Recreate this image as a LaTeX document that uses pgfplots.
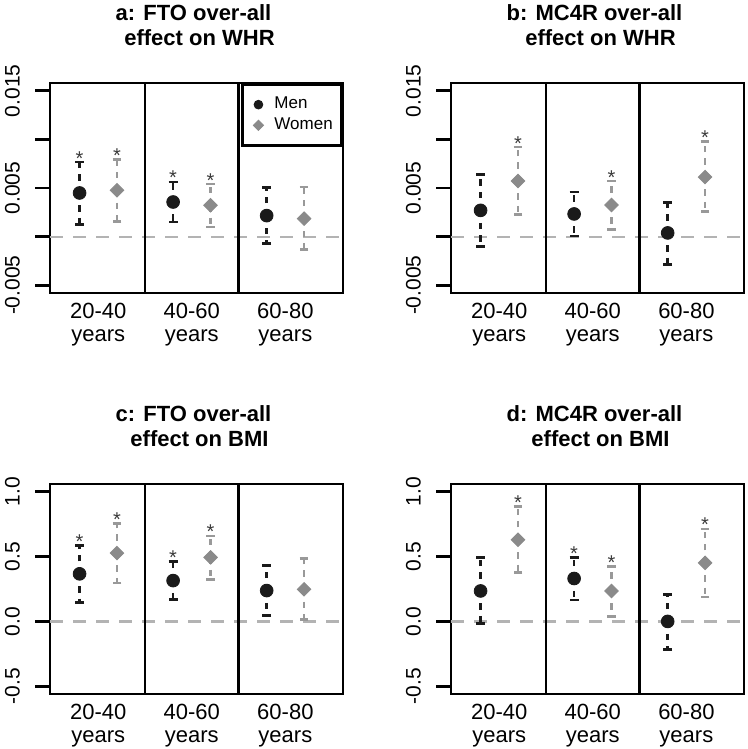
\documentclass[border=0pt]{standalone}
\usepackage{fontspec}
\setmainfont{Liberation Sans}
\usepackage{pgfplots}
\usepackage{pgfplotstable}
\pgfplotsset{compat=1.18}

\definecolor{men}{HTML}{1A1A1A}
\definecolor{women}{HTML}{8A8A8A}
\definecolor{womenbar}{HTML}{999999}
\definecolor{zerocol}{HTML}{B3B3B3}
\definecolor{starcol}{HTML}{3A3A3A}

% columns: x, estimate, lower and upper CI
\pgfplotstableread{
x y lo hi
0.8 0.00449 0.00123 0.00767
1.8 0.00356 0.00151 0.00562
2.8 0.00216 -0.00072 0.00503
}\aMen
\pgfplotstableread{
x y lo hi
1.2 0.00476 0.00158 0.00795
2.2 0.00322 0.00099 0.00541
3.2 0.00185 -0.00134 0.00510
}\aWomen
\pgfplotstableread{
x hi
0.8 0.00767
1.2 0.00795
1.8 0.00562
2.2 0.00541
}\aStar

\pgfplotstableread{
x y lo hi
0.8 0.00270 -0.00099 0.00640
1.8 0.00233 0.00007 0.00459
2.8 0.00038 -0.00284 0.00353
}\bMen
\pgfplotstableread{
x y lo hi
1.2 0.00572 0.00226 0.00921
2.2 0.00325 0.00075 0.00572
3.2 0.00613 0.00257 0.00980
}\bWomen
\pgfplotstableread{
x hi
1.2 0.00921
2.2 0.00572
3.2 0.00980
}\bStar

\pgfplotstableread{
x y lo hi
0.8 0.367 0.145 0.584
1.8 0.315 0.168 0.465
2.8 0.238 0.047 0.432
}\cMen
\pgfplotstableread{
x y lo hi
1.2 0.527 0.297 0.755
2.2 0.494 0.323 0.659
3.2 0.248 0.016 0.483
}\cWomen
\pgfplotstableread{
x hi
0.8 0.584
1.2 0.755
1.8 0.465
2.2 0.659
}\cStar

\pgfplotstableread{
x y lo hi
0.8 0.235 -0.016 0.491
1.8 0.331 0.165 0.496
2.8 0.000 -0.217 0.209
}\dMen
\pgfplotstableread{
x y lo hi
1.2 0.630 0.375 0.884
2.2 0.235 0.041 0.426
3.2 0.452 0.189 0.713
}\dWomen
\pgfplotstableread{
x hi
1.2 0.884
1.8 0.496
2.2 0.426
3.2 0.713
}\dStar

\pgfplotsset{
  panel/.style={
    scale only axis, width=146.5pt, height=105pt,
    anchor=south west,
    xmin=0.484, xmax=3.616,
    axis line style={line width=1.3pt},
    xtick={1,2,3},
    xticklabels={{20-40\\years},{40-60\\years},{60-80\\years}},
    xtick style={draw=none},
    xticklabel style={align=center, font=\fontsize{11}{11.5}\selectfont, anchor=north, inner sep=0pt, yshift=2.5pt},
    ytick pos=left, tick align=outside,
    major tick length=7.5pt,
    ytick style={line width=1.3pt, black},
    yticklabel style={rotate=90, anchor=south, font=\fontsize{10.5}{12}\selectfont},
    yticklabel shift=4pt,
    scaled y ticks=false,
    title style={at={(0.5,1)}, anchor=south, inner sep=0pt, yshift=12.5pt, align=center, font=\bfseries\fontsize{11}{12.25}\selectfont},
    legend image code/.code={\path[draw=none, fill=none] (0pt,0pt) -- (11.5pt,0pt); \draw[#1] plot coordinates {(5pt,0pt)};},
  },
  whr/.style={ymin=-0.0058, ymax=0.0158, ytick={-0.005,0,0.005,0.01,0.015}, yticklabels={-0.005,,0.005,,0.015}},
  bmi/.style={ymin=-0.56, ymax=1.06, ytick={-0.5,0,0.5,1}, yticklabels={-0.5,0.0,0.5,1.0}},
  menplot/.style={only marks, mark=*, mark size=3.2pt, color=men,
    error bars/y dir=both, error bars/y explicit,
    error bars/error bar style={line width=1.2pt, dash pattern=on 3.2pt off 3pt},
    error bars/error mark=-,
    error bars/error mark options={rotate=90, solid, line width=1.4pt, mark size=2.2pt}},
  womenplot/.style={only marks, mark=square*, mark size=2.4pt, color=women, mark options={rotate=45},
    error bars/y dir=both, error bars/y explicit,
    error bars/error bar style={womenbar, line width=1.2pt, dash pattern=on 3.2pt off 3pt},
    error bars/error mark=-,
    error bars/error mark options={rotate=90, solid, womenbar, line width=1.4pt, mark size=2.2pt}},
  starplot/.style={draw=none, mark=none, nodes near coords={*},
    every node near coord/.append style={anchor=base, yshift=-1.5pt, inner sep=0pt, text=starcol, font=\fontsize{10}{10}\selectfont}},
  zeroplot/.style={forget plot, zerocol, line width=1.1pt, dash pattern=on 6.5pt off 5pt},
  table/ci/.style={x=x, y=y, y error plus expr=\thisrow{hi}-\thisrow{y}, y error minus expr=\thisrow{y}-\thisrow{lo}},
}

\newcommand{\dividers}{%
  \draw[line width=1.3pt] ({axis cs:1.5,0}|-{rel axis cs:0,0}) -- ({axis cs:1.5,0}|-{rel axis cs:0,1});
  \draw[line width=1.3pt] ({axis cs:2.5,0}|-{rel axis cs:0,0}) -- ({axis cs:2.5,0}|-{rel axis cs:0,1});
}

\begin{document}
\begin{tikzpicture}
\useasboundingbox (0,0) rectangle (374pt,-374.5pt);

% a
\begin{axis}[panel, whr, at={(25pt,-146.5pt)},
  title={a: FTO over-all\kern3pt\\\kern3pt effect on WHR},
  legend entries={Men,Women},
  legend cell align=left,
  legend style={at={(1,1)}, anchor=north east, draw=black, line width=1.3pt,
    font=\fontsize{8.5}{10}\selectfont, inner xsep=3pt, inner ysep=5pt, row sep=0pt,
    nodes={inner sep=1.5pt}},
]
\addlegendimage{only marks, mark=*, mark size=2.2pt, men, line width=0.4pt}
\addlegendimage{only marks, mark=square*, mark size=1.8pt, women, mark options={rotate=45}, line width=0.4pt}
\addplot[zeroplot] coordinates {(0.484,0) (3.616,0)};
\dividers
\addplot[menplot] table[ci] {\aMen};
\addplot[womenplot] table[ci] {\aWomen};
\addplot[starplot] table[x=x, y=hi] {\aStar};
\end{axis}

% b
\begin{axis}[panel, whr, at={(225.5pt,-146.5pt)},
  title={b: MC4R over-all\kern3pt\\\kern3pt effect on WHR}]
\addplot[zeroplot] coordinates {(0.484,0) (3.616,0)};
\dividers
\addplot[menplot] table[ci] {\bMen};
\addplot[womenplot] table[ci] {\bWomen};
\addplot[starplot] table[x=x, y=hi] {\bStar};
\end{axis}

% c
\begin{axis}[panel, bmi, at={(25pt,-347pt)},
  title={c: FTO over-all\kern3pt\\\kern3pt effect on BMI}]
\addplot[zeroplot] coordinates {(0.484,0) (3.616,0)};
\dividers
\addplot[menplot] table[ci] {\cMen};
\addplot[womenplot] table[ci] {\cWomen};
\addplot[starplot] table[x=x, y=hi] {\cStar};
\end{axis}

% d
\begin{axis}[panel, bmi, at={(225.5pt,-347pt)},
  title={d: MC4R over-all\kern3pt\\\kern3pt effect on BMI}]
\addplot[zeroplot] coordinates {(0.484,0) (3.616,0)};
\dividers
\addplot[menplot] table[ci] {\dMen};
\addplot[womenplot] table[ci] {\dWomen};
\addplot[starplot] table[x=x, y=hi] {\dStar};
\end{axis}
\end{tikzpicture}
\end{document}
